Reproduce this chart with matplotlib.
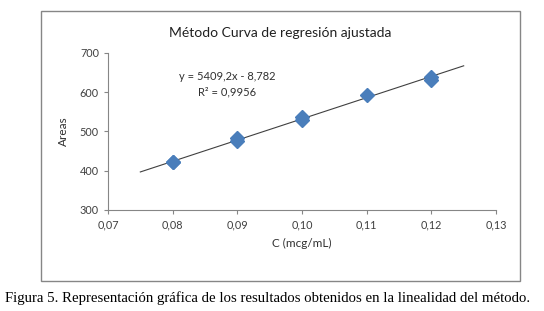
import matplotlib.pyplot as plt
from matplotlib.patches import Rectangle
import numpy as np

# Calibration data
conc = [0.08, 0.08, 0.09, 0.09, 0.10, 0.10, 0.11, 0.12, 0.12]
areas = [421, 423, 484, 477, 537, 529, 593, 638, 630]
slope, intercept = 5409.2, -8.782
fit_range = [0.075, 0.125]
xticks = [0.07, 0.08, 0.09, 0.10, 0.11, 0.12, 0.13]
yticks = [300, 400, 500, 600, 700]

plt.rcParams['font.family'] = ['Lato', 'DejaVu Sans']

fig = plt.figure(figsize=(5.44, 3.11), dpi=100)
fig.patches.append(Rectangle((0.0754, 0.0965), 0.8806, 0.868, transform=fig.transFigure,
                             fill=False, edgecolor="#868686", linewidth=1.0))

ax = fig.add_axes([0.1985, 0.3248, 0.7133, 0.5048])
fx = np.array(fit_range)
ax.plot(fx, slope * fx + intercept, color="#404040", linewidth=0.8, zorder=2)
ax.plot(conc, areas, "D", color="#4A7EBB", markersize=7, zorder=3)

ax.set_xlim(0.07, 0.13)
ax.set_ylim(300, 700)
ax.set_xticks(xticks)
ax.set_xticklabels([f"{v:.2f}".replace(".", ",") for v in xticks])
ax.set_yticks(yticks)
for s in ["top", "right"]:
    ax.spines[s].set_visible(False)
for s in ["left", "bottom"]:
    ax.spines[s].set_color("#868686")
    ax.spines[s].set_linewidth(0.8)
ax.tick_params(colors="#868686", labelcolor="#404040", labelsize=7.8, length=3, width=0.8)
ax.set_xlabel("C (mcg/mL)", fontsize=8.5, color="#303030", labelpad=6)
ax.set_ylabel("Areas", fontsize=8.5, color="#303030", labelpad=8)

ax.text(0.307, 0.853, f"y = {slope:.1f}x - {abs(intercept):.3f}".replace(".", ","),
        transform=ax.transAxes, fontsize=8, color="#303030", ha="center", va="center")
ax.text(0.307, 0.752, "R² = 0,9956", transform=ax.transAxes, fontsize=8, color="#303030",
        ha="center", va="center")

fig.text(0.515, 0.894, "Método Curva de regresión ajustada", ha="center", va="center",
         fontsize=10, color="#202020")
fig.text(0.491, 0.042, "Figura 5. Representación gráfica de los resultados obtenidos en la linealidad del método.",
         ha="center", va="center", fontsize=10.6, family="Liberation Serif", color="black")

plt.savefig("out.png", dpi=100)
